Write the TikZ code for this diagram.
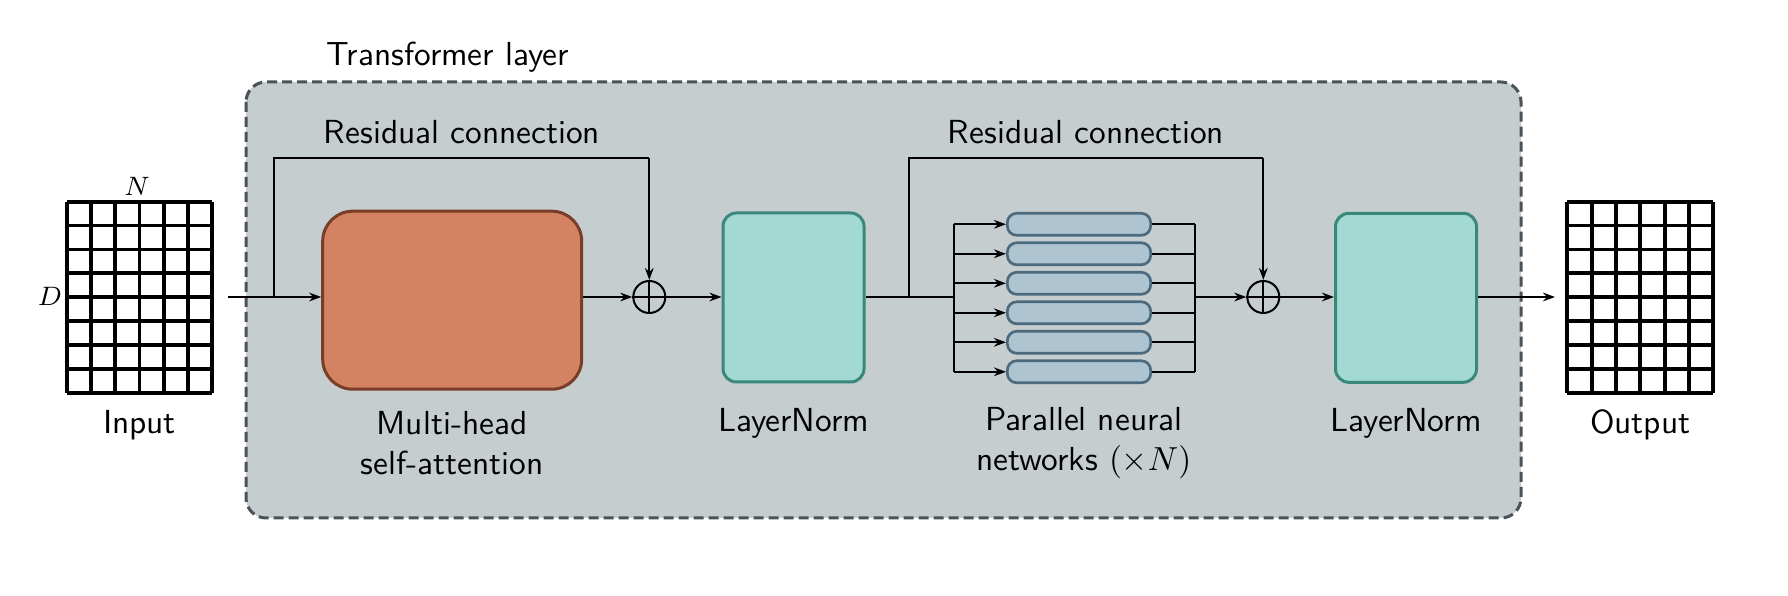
\documentclass[tikz,border=0pt]{standalone}
\usetikzlibrary{arrows.meta}
\definecolor{panelfill}{HTML}{C5CDCF}
\definecolor{paneldraw}{HTML}{495358}
\definecolor{mhsafill}{HTML}{D38361}
\definecolor{mhsadraw}{HTML}{7A3E28}
\definecolor{lnfill}{HTML}{A2D9D3}
\definecolor{lndraw}{HTML}{3A877C}
\definecolor{barfill}{HTML}{AFC4D1}
\definecolor{bardraw}{HTML}{4B6A7E}
\tikzset{
  conn/.style={line width=0.6pt, draw=black},
  arr/.style={conn, -{Stealth[length=3.6pt,width=2.6pt]}},
  lbl/.style={font=\sffamily\fontsize{10}{12}\selectfont, align=center, inner sep=0pt},
  mlbl/.style={font=\fontsize{8}{9}\selectfont, inner sep=0pt},
  gridln/.style={line width=1.15pt},
  gridbox/.style={draw=none, minimum width=43.8pt, minimum height=57.3pt, inner sep=0pt},
  lnbox/.style={draw=lndraw, fill=lnfill, line width=0.9pt, rounded corners=4pt, minimum width=42.3pt, minimum height=50.7pt, inner sep=0pt},
  mhsabox/.style={draw=mhsadraw, fill=mhsafill, line width=0.9pt, rounded corners=9pt, minimum width=77.7pt, minimum height=53.4pt, inner sep=0pt},
  barbox/.style={draw=bardraw, fill=barfill, line width=0.8pt, rounded corners=2.8pt, minimum width=43pt, minimum height=6.6pt, inner sep=0pt},
  plusnode/.style={circle, draw=black, line width=0.6pt, minimum size=9.6pt, inner sep=0pt},
}
\begin{document}
\begin{tikzpicture}[x=0.3pt, y=-0.3pt]
\useasboundingbox (0,0) rectangle (1788,596);
% panel
\draw[fill=panelfill, draw=paneldraw, line width=0.9pt, dash pattern=on 3pt off 1.5pt, rounded corners=6pt] (246,82) rectangle (1521,518);
\node[lbl, anchor=west] (tl) at (326,57) {Transformer layer};

% input grid
\node[gridbox] (in) at (139.5,297.2) {};
\foreach \i in {0,...,6} \draw[gridln] (66.7+\i*24.27,201.7) -- (66.7+\i*24.27,392.7);
\foreach \j in {0,...,8} \draw[gridln] (66.7,201.7+\j*23.875) -- (212.3,201.7+\j*23.875);
\node[mlbl] (nlab) at (137,186.5) {$N$};
\node[mlbl] (dlab) at (50,296) {$D$};
\node[lbl] (inlab) at (139.5,425) {Input};

% output grid
\node[gridbox] (out) at (1640.3,297.2) {};
\foreach \i in {0,...,6} \draw[gridln] (1567.3+\i*24.33,201.7) -- (1567.3+\i*24.33,392.7);
\foreach \j in {0,...,8} \draw[gridln] (1567.3,201.7+\j*23.875) -- (1713.3,201.7+\j*23.875);
\node[lbl] (outlab) at (1640.3,425) {Output};

% blocks
\node[mhsabox] (mhsa) at (452.2,300.2) {};
\node[lbl] (mhsalab) at (452.2,443) {Multi-head\\self-attention};
\node[plusnode] (p1) at (649.3,297) {};
\draw[line width=0.6pt] (p1.north) -- (p1.south) (p1.west) -- (p1.east);
\node[lnbox] (ln1) at (793.5,297.5) {};
\node[lbl] (ln1lab) at (793.5,423) {LayerNorm};

\foreach \k/\y in {1/224.3,2/253.8,3/283.3,4/312.8,5/342.3,6/371.8}
  \node[barbox] (bar\k) at (1079,\y) {};
\node[lbl] (parlab) at (1084,443) {Parallel neural\\networks $(\times N)$};

\node[plusnode] (p2) at (1263.3,297) {};
\draw[line width=0.6pt] (p2.north) -- (p2.south) (p2.west) -- (p2.east);
\node[lnbox] (ln2) at (1406,297.8) {};
\node[lbl] (ln2lab) at (1406,423) {LayerNorm};

% residual labels
\node[lbl] (r1lab) at (462,132) {Residual connection};
\node[lbl] (r2lab) at (1086,132) {Residual connection};

% coordinates
\coordinate (inS) at (228,297);
\coordinate (b1) at (274,297);
\coordinate (b2) at (909,297);
\coordinate (split) at (954,297);
\coordinate (merge) at (1195,297);
\coordinate (outS) at (1477,297);
\coordinate (outE) at (1555,297);

% connectors
\draw[arr] (inS) -- (inS -| mhsa.west);
\draw[conn] (b1) |- (p1 |- 0,158) coordinate (r1c);
\draw[arr] (r1c) -- (p1.north);
\draw[arr] (mhsa.east |- p1) -- (p1.west);
\draw[arr] (p1.east) -- (ln1.west |- p1);
\draw[conn] (ln1.east |- split) -- (split);
\draw[conn] (b2) |- (p2 |- 0,158) coordinate (r2c);
\draw[arr] (r2c) -- (p2.north);
\draw[conn] (split |- bar1) -- (split |- bar6);
\draw[conn] (merge |- bar1) -- (merge |- bar6);
\foreach \k in {1,...,6} {
  \draw[arr] (split |- bar\k) -- (bar\k.west);
  \draw[conn] (bar\k.east) -- (merge |- bar\k);
}
\draw[arr] (merge) -- (p2.west);
\draw[arr] (p2.east) -- (ln2.west |- p2);
\draw[arr] (ln2.east |- outS) -- (outE);
\end{tikzpicture}
\end{document}
